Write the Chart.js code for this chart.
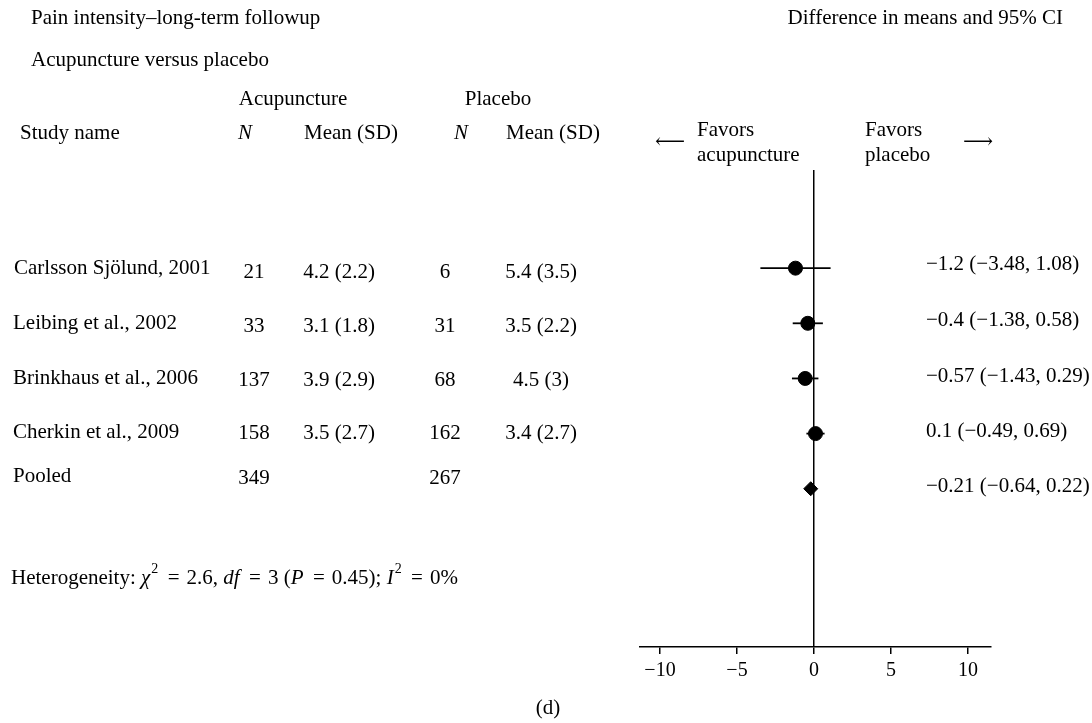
<!DOCTYPE html>
<html>
<head>
<meta charset="utf-8">
<script src="https://cdn.jsdelivr.net/npm/chart.js@4/dist/chart.umd.min.js"></script>
<style>
  html, body { margin: 0; padding: 0; background: #fff; }
  #wrap { width: 1092px; height: 723px; position: relative; }
</style>
</head>
<body>
<div id="wrap"><canvas id="forest"></canvas></div>
<script>
// Study rows (table columns)
var studies = ['Carlsson Sjölund, 2001', 'Leibing et al., 2002', 'Brinkhaus et al., 2006', 'Cherkin et al., 2009', 'Pooled'];
var acuN = ['21', '33', '137', '158', '349'];
var acuMean = ['4.2 (2.2)', '3.1 (1.8)', '3.9 (2.9)', '3.5 (2.7)', ''];
var plaN = ['6', '31', '68', '162', '267'];
var plaMean = ['5.4 (3.5)', '3.5 (2.2)', '4.5 (3)', '3.4 (2.7)', ''];
// Difference in means and 95% CI
var diff = [-1.2, -0.4, -0.57, 0.1, -0.21];
var lower = [-3.48, -1.38, -1.43, -0.49, -0.64];
var upper = [1.08, 0.58, 0.29, 0.69, 0.22];
// x axis ticks
var tickValues = [-10, -5, 0, 5, 10];

var SERIF = "'Liberation Serif', 'DejaVu Serif', serif";
var pooledIdx = studies.length - 1;

function fmt(v) {
    return v < 0 ? '\u2212' + Math.abs(v) : String(v);
}

//CI lines, one dataset each
var ciSets = studies.map(function (s, i) {
    return {
        type: 'line',
        data: i == pooledIdx ? [] : [{ x: lower[i], y: i }, { x: upper[i], y: i }],
        borderColor: '#000',
        borderWidth: 1.8,
        pointRadius: 0
    };
});

var pointData = [];
for (var i = 0; i < pooledIdx; i++) {
    pointData.push({ x: diff[i], y: i });
}

// draw table text, headers and notes around the plot
var tablePlugin = {
    id: 'tableText',
    afterDraw: function (chart) {
        var c = chart.ctx;
        var ys = chart.scales.y;
        c.save();
        c.fillStyle = '#000';
        c.textBaseline = 'middle';
        function txt(s, x, y, align, style) {
            c.font = (style || '') + ' 21px ' + SERIF;
            c.textAlign = align || 'left';
            c.fillText(s, x, y);
        }
        txt('Pain intensity\u2013long-term followup', 31, 18);
        txt('Difference in means and 95% CI', 1063, 18, 'right');
        txt('Acupuncture versus placebo', 31, 60);

        txt('Acupuncture', 293, 99, 'center');
        txt('Placebo', 498, 99, 'center');
        txt('Study name', 20, 133);
        txt('N', 245, 133, 'center', 'italic');
        txt('Mean (SD)', 351, 133, 'center');
        txt('N', 461, 133, 'center', 'italic');
        txt('Mean (SD)', 553, 133, 'center');

        txt('Favors', 697, 130);
        txt('acupuncture', 697, 155);
        txt('Favors', 865, 130);
        txt('placebo', 865, 155);
        txt('\u27F5', 670, 142, 'center');
        txt('\u27F6', 978, 142, 'center');

        var nameDy = [0, 0, 0, -1, -12];
        var numDy = [4, 3, 2, 0, -10];
        var resDy = [-4, -3, -2, -2, -2];
        studies.forEach(function (s, i) {
            var y = ys.getPixelForValue(i);
            txt(s, i == 0 ? 14 : 13, y + nameDy[i]);
            txt(acuN[i], 254, y + numDy[i], 'center');
            txt(acuMean[i], 339, y + numDy[i], 'center');
            txt(plaN[i], 445, y + numDy[i], 'center');
            txt(plaMean[i], 541, y + numDy[i], 'center');
            txt(fmt(diff[i]) + ' (' + fmt(lower[i]) + ', ' + fmt(upper[i]) + ')', 926, y + resDy[i]);
        });

        // Heterogeneity line with italic + superscripts
        var hx = 11, hy = 578;
        var eq = ' \u2009=\u200A ';
        var parts = [
            ['Heterogeneity: ', ''], ['\u03C7', 'italic'], ['2', 'sup'], [eq + '2.6, ', ''],
            ['df', 'italic'], [eq + '3 (', ''], ['P', 'italic'], [eq + '0.45); ', ''],
            ['I', 'italic'], ['2', 'sup'], [eq + '0%', '']
        ];
        c.textAlign = 'left';
        parts.forEach(function (p) {
            if (p[1] == 'sup') {
                c.font = '14px ' + SERIF;
                c.fillText(p[0], hx + 1, hy - 9);
            } else {
                c.font = (p[1] == 'italic' ? 'italic ' : '') + '21px ' + SERIF;
                c.fillText(p[0], hx, hy);
            }
            hx += c.measureText(p[0]).width + (p[1] == 'sup' ? 1 : 0);
        });

        txt('(d)', 548, 708, 'center');
        c.restore();
    }
};

const ctx = document.getElementById('forest');
const forestChart = new Chart(ctx, {
    type: 'scatter',
    data: {
        datasets: ciSets.concat([{
            label: 'Studies',
            data: pointData,
            backgroundColor: '#000',
            borderColor: '#000',
            pointRadius: 7,
            pointStyle: 'circle'
        }, {
            label: 'Pooled',
            data: [{ x: diff[pooledIdx], y: pooledIdx }],
            backgroundColor: '#000',
            borderColor: '#000',
            pointRadius: 7,
            pointStyle: 'rectRot'
        }])
    },
    options: {
        responsive: true,
        maintainAspectRatio: false,
        animation: false,
        layout: {
            padding: { left: 640, right: 101, top: 170, bottom: 35 }
        },
        plugins: {
            legend: { display: false },
            tooltip: { enabled: false }
        },
        scales: {
            x: {
                type: 'linear',
                min: -11.3,
                max: 11.5,
                afterBuildTicks: function (scale) {
                    scale.ticks = tickValues.map(function (v) { return { value: v }; });
                },
                grid: {
                    drawOnChartArea: true,
                    color: function (c) {
                        return c.tick && c.tick.value === 0 ? '#000' : 'rgba(0,0,0,0)';
                    },
                    lineWidth: 1.5,
                    tickColor: '#000',
                    tickLength: 7,
                    tickWidth: 1.5
                },
                border: { display: true, color: '#000', width: 1.5 },
                ticks: {
                    color: '#000',
                    padding: 5,
                    maxRotation: 0,
                    font: { family: SERIF, size: 20 },
                    callback: function (v) { return fmt(v); }
                }
            },
            y: {
                type: 'linear',
                display: false,
                min: -1.78,
                max: 6.87,
                reverse: true
            }
        }
    },
    plugins: [tablePlugin]
});
</script>
</body>
</html>
